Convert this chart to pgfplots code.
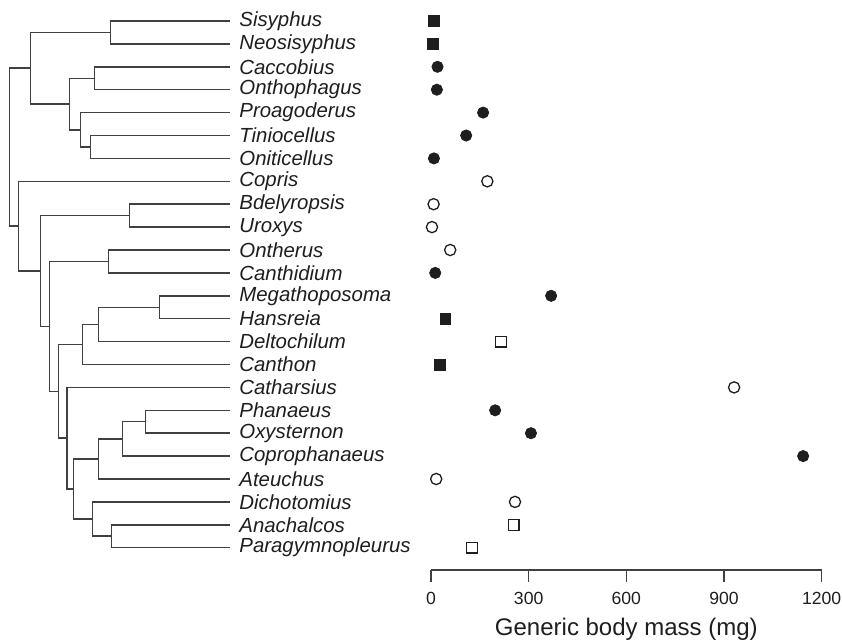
\documentclass[border=0pt]{standalone}
\usepackage{pgfplots}
\pgfplotsset{compat=1.18}
\usepackage{fontspec}
\setmainfont{Liberation Sans}
\definecolor{ink}{HTML}{1E1E1E}
\pgfplotsset{treeline/.style={draw=ink!85, line width=0.75pt, mark=none, solid}}
\begin{document}
\begin{tikzpicture}
\useasboundingbox (0pt,0pt) rectangle (421pt,-320.5pt);
% ---------------- tree ----------------
\begin{axis}[at={(0pt,-285pt)}, anchor=south west, scale only axis,
  width=115pt, height=285pt, xmin=0, xmax=230, ymin=-0.917, ymax=23.974,
  y dir=reverse, hide axis, clip=false]
\addplot[treeline] coordinates {(230,0)(110.7,0)(110.7,1)(230,1)};
\addplot[treeline] coordinates {(230,2)(94.3,2)(94.3,3)(230,3)};
\addplot[treeline] coordinates {(230,5)(90.7,5)(90.7,6)(230,6)};
\addplot[treeline] coordinates {(230,4)(80.7,4)(80.7,5.5)(90.7,5.5)};
\addplot[treeline] coordinates {(94.3,2.5)(69.7,2.5)(69.7,4.75)(80.7,4.75)};
\addplot[treeline] coordinates {(110.7,0.5)(30.3,0.5)(30.3,3.625)(69.7,3.625)};
\addplot[treeline] coordinates {(230,8)(129.3,8)(129.3,9)(230,9)};
\addplot[treeline] coordinates {(230,10)(108.7,10)(108.7,11)(230,11)};
\addplot[treeline] coordinates {(230,12)(159.3,12)(159.3,13)(230,13)};
\addplot[treeline] coordinates {(159.3,12.5)(98.7,12.5)(98.7,14)(230,14)};
\addplot[treeline] coordinates {(98.7,13.25)(82.7,13.25)(82.7,15)(230,15)};
\addplot[treeline] coordinates {(230,17)(145.3,17)(145.3,18)(230,18)};
\addplot[treeline] coordinates {(145.3,17.5)(122.7,17.5)(122.7,19)(230,19)};
\addplot[treeline] coordinates {(122.7,18.25)(98.7,18.25)(98.7,20)(230,20)};
\addplot[treeline] coordinates {(230,22)(111.3,22)(111.3,23)(230,23)};
\addplot[treeline] coordinates {(230,21)(92.7,21)(92.7,22.5)(111.3,22.5)};
\addplot[treeline] coordinates {(98.7,19.125)(73.7,19.125)(73.7,21.75)(92.7,21.75)};
\addplot[treeline] coordinates {(230,16)(67,16)(67,20.4375)(73.7,20.4375)};
\addplot[treeline] coordinates {(82.7,14.125)(58.3,14.125)(58.3,18.21875)(67,18.21875)};
\addplot[treeline] coordinates {(108.7,10.5)(49.3,10.5)(49.3,16.171875)(58.3,16.171875)};
\addplot[treeline] coordinates {(129.3,8.5)(40.3,8.5)(40.3,13.3359)(49.3,13.3359)};
\addplot[treeline] coordinates {(230,7)(18.3,7)(18.3,10.918)(40.3,10.918)};
\addplot[treeline] coordinates {(30.3,2.0625)(9.5,2.0625)(9.5,8.959)(18.3,8.959)};
\begin{scope}[every node/.style={anchor=west, inner sep=0pt, xshift=4.5pt, text=ink, font=\fontsize{10.2}{12}\selectfont\itshape}]
\node at (axis cs:230,0) {Sisyphus};
\node at (axis cs:230,1) {Neosisyphus};
\node at (axis cs:230,2) {Caccobius};
\node at (axis cs:230,3) {Onthophagus};
\node at (axis cs:230,4) {Proagoderus};
\node at (axis cs:230,5) {Tiniocellus};
\node at (axis cs:230,6) {Oniticellus};
\node at (axis cs:230,7) {Copris};
\node at (axis cs:230,8) {Bdelyropsis};
\node at (axis cs:230,9) {Uroxys};
\node at (axis cs:230,10) {Ontherus};
\node at (axis cs:230,11) {Canthidium};
\node at (axis cs:230,12) {Megathoposoma};
\node at (axis cs:230,13) {Hansreia};
\node at (axis cs:230,14) {Deltochilum};
\node at (axis cs:230,15) {Canthon};
\node at (axis cs:230,16) {Catharsius};
\node at (axis cs:230,17) {Phanaeus};
\node at (axis cs:230,18) {Oxysternon};
\node at (axis cs:230,19) {Coprophanaeus};
\node at (axis cs:230,20) {Ateuchus};
\node at (axis cs:230,21) {Dichotomius};
\node at (axis cs:230,22) {Anachalcos};
\node at (axis cs:230,23) {Paragymnopleurus};
\end{scope}
\end{axis}
% ---------------- body mass ----------------
\begin{axis}[at={(215.5pt,-285pt)}, anchor=south west, scale only axis,
  width=195.35pt, height=285pt, xmin=0, xmax=1200, ymin=-0.917, ymax=23.974,
  y dir=reverse, axis x line*=bottom, axis y line=none, clip=false,
  xtick={0,300,600,900,1200}, tick align=outside, major tick length=5.8pt,
  x axis line style={draw=ink!85, line width=0.7pt},
  every tick/.style={draw=ink!85, line width=0.7pt},
  scaled x ticks=false,
  xticklabel style={/pgf/number format/1000 sep={}, /pgf/number format/assume math mode=true, font=\fontsize{8.8}{10}\selectfont, text=ink, yshift=-2pt},
  xlabel={Generic body mass (mg)},
  xlabel style={font=\fontsize{12}{14}\selectfont, text=ink, yshift=0.5pt}]
\addplot[only marks, mark=square*, mark size=2.7pt, mark options={draw=ink, fill=ink, line width=0.4pt, solid}] coordinates {(10,0)(6,1)(44,13)(27,15)};
\addplot[only marks, mark=*, mark size=2.8pt, mark options={draw=ink, fill=ink, line width=0.4pt, solid}] coordinates {(20,2)(18,3)(160,4)(108,5)(9,6)(13,11)(369,12)(197,17)(307,18)(1143,19)};
\addplot[only marks, mark=*, mark size=2.8pt, mark options={draw=ink, fill=white, line width=0.65pt, solid}] coordinates {(173,7)(8,8)(3,9)(59,10)(931,16)(16,20)(258,21)};
\addplot[only marks, mark=square*, mark size=2.7pt, mark options={draw=ink, fill=white, line width=0.65pt, solid}] coordinates {(215,14)(254,22)(126,23)};
\end{axis}
\end{tikzpicture}
\end{document}
